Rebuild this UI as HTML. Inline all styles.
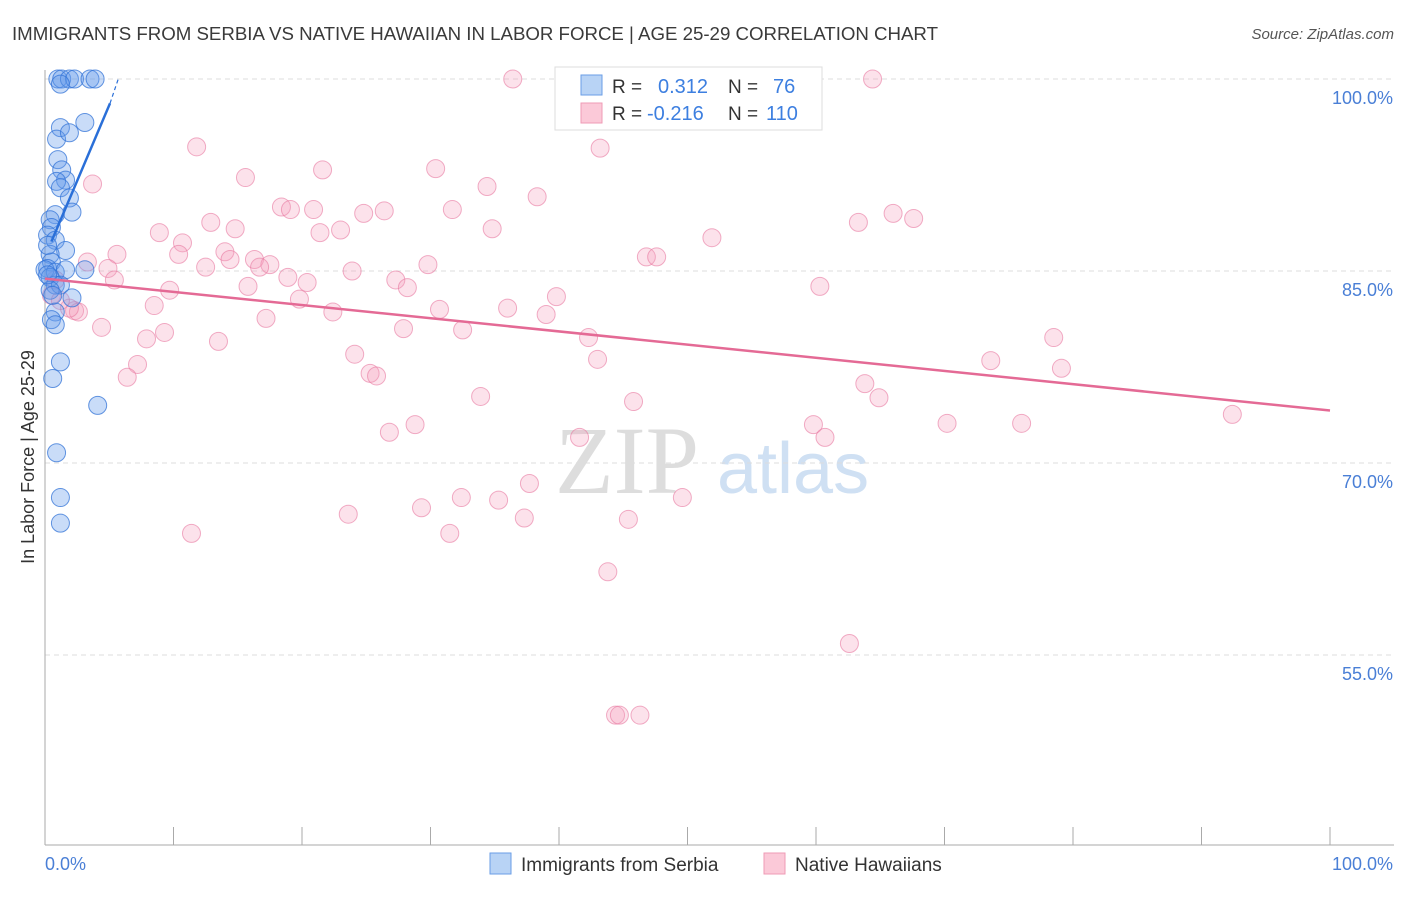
<!DOCTYPE html>
<html><head><meta charset="utf-8"><style>
body{margin:0;background:#fff;width:1406px;height:892px;overflow:hidden;font-family:"Liberation Sans",sans-serif}
</style></head><body>
<svg id="chart" width="1406" height="892" xmlns="http://www.w3.org/2000/svg" font-family="Liberation Sans, sans-serif">
<text x="12" y="40" font-size="18.7" fill="#3a3a3a" textLength="926" lengthAdjust="spacing">IMMIGRANTS FROM SERBIA VS NATIVE HAWAIIAN IN LABOR FORCE | AGE 25-29 CORRELATION CHART</text>
<text x="1394" y="39" font-size="15" fill="#555" text-anchor="end" font-style="italic">Source: ZipAtlas.com</text>
<text x="555" y="493" font-size="96" fill="#ddd" font-family="Liberation Serif, serif">ZIP</text>
<text x="717" y="493" font-size="72" fill="#cfe0f3">atlas</text>
<g id="grid"></g>
<g id="axes"></g>
<g id="pink"></g>
<g id="blue"></g>
<g id="lines"></g>
<text transform="translate(34,457) rotate(-90)" font-size="18" fill="#333" text-anchor="middle">In Labor Force | Age 25-29</text>
<g>
<rect x="555" y="67" width="267" height="63" fill="#fff" stroke="#ddd"/>
<rect x="581" y="75" width="21" height="20" fill="#b8d3f5" stroke="#6a9ee6"/>
<rect x="581" y="103" width="21" height="20" fill="#fbc9d8" stroke="#ef9bb6"/>
<text x="612" y="93" font-size="19" fill="#333">R =</text>
<text x="658" y="93" font-size="20" fill="#3d7fe0">0.312</text>
<text x="728" y="93" font-size="19" fill="#333">N =</text>
<text x="773" y="93" font-size="20" fill="#3d7fe0">76</text>
<text x="612" y="120" font-size="19" fill="#333">R =</text>
<text x="647" y="120" font-size="20" fill="#3d7fe0">-0.216</text>
<text x="728" y="120" font-size="19" fill="#333">N =</text>
<text x="766" y="120" font-size="20" fill="#3d7fe0">110</text>
</g>
<g>
<rect x="490" y="853" width="21" height="21" fill="#b8d3f5" stroke="#6a9ee6"/>
<text x="521" y="871" font-size="19" fill="#333">Immigrants from Serbia</text>
<rect x="764" y="853" width="21" height="21" fill="#fbc9d8" stroke="#ef9bb6"/>
<text x="795" y="871" font-size="19" fill="#333">Native Hawaiians</text>
</g>
</svg>
<script>
const yTicks=[100,85,70,55];
const yTickLabels=["100.0%","85.0%","70.0%","55.0%"];
const xTickLabels=["0.0%","100.0%"];
const blueX=[1.0,1.3,1.9,2.3,3.5,3.9,1.2,3.1,1.2,0.9,1.9,1.0,1.3,1.6,0.9,1.2,1.9,2.1,0.8,0.4,0.5,0.2,0.8,1.6,0.4,0.5,0.2,0,0.8,1.6,3.1,0.4,0.8,1.2,2.1,0.8,0.5,0.8,1.2,0.6,4.1,0.9,1.2,1.2,0.2,0.4,0.2,0.6];
const blueY=[100,100,100,100,100,100,99.6,96.6,96.2,95.3,95.8,93.7,92.9,92.1,92.0,91.5,90.7,89.6,89.4,89.0,88.4,87.8,87.4,86.6,86.3,85.7,85.2,85.1,84.9,85.1,85.1,84.5,83.9,83.9,82.9,81.8,81.2,80.8,77.9,76.6,74.5,70.8,67.3,65.3,87.0,83.5,84.7,83.1];
const pinkX=[36.4,64.4,53.5,43.2,11.8,21.6,30.4,15.6,3.7,34.4,38.3,18.4,19.1,20.9,24.8,26.4,31.7,12.9,8.9,10.7,14.8,21.4,23.0,34.8,63.3,66.0,67.6,51.9,5.6,10.4,14.0,14.4,16.3,17.5,16.7,3.3,4.9,12.5,46.8,47.6,29.8,23.9,18.9,20.4,27.3,28.2,15.8,9.7,5.4,19.8,39.8,8.5,36.0,39.0,22.4,30.7,2.3,2.6,1.9,17.2,4.4,9.3,7.9,13.5,27.9,32.5,42.3,60.3,78.5,43.0,24.1,7.2,6.4,25.3,25.8,73.6,79.1,33.9,45.8,63.8,64.9,92.4,28.8,26.8,59.8,60.7,70.2,76.0,41.6,37.7,32.4,35.3,49.6,23.6,29.3,37.3,45.4,11.4,31.5,43.8,62.6,44.4,44.7,46.3,0.5,0.8,1.2];
const pinkY=[100,100,97.6,94.6,94.7,92.9,93.0,92.3,91.8,91.6,90.8,90.0,89.8,89.8,89.5,89.7,89.8,88.8,88.0,87.2,88.3,88.0,88.2,88.3,88.8,89.5,89.1,87.6,86.3,86.3,86.5,85.9,85.9,85.5,85.3,85.7,85.2,85.3,86.1,86.1,85.5,85.0,84.5,84.1,84.3,83.7,83.8,83.5,84.3,82.8,83.0,82.3,82.1,81.6,81.8,82.0,81.9,81.8,82.1,81.3,80.6,80.2,79.7,79.5,80.5,80.4,79.8,83.8,79.8,78.1,78.5,77.7,76.7,77.0,76.8,78.0,77.4,75.2,74.8,76.2,75.1,73.8,73.0,72.4,73.0,72.0,73.1,73.1,72.0,68.4,67.3,67.1,67.3,66.0,66.5,65.7,65.6,64.5,64.5,61.5,55.9,50.3,50.3,50.3,83.1,84.3,82.7];
const blueTrend=[[0.5,87.3],[5.06,98.1]];
const blueTrendDash=[[5.06,98.1],[5.7,100]];
const pinkTrend=[[0,84.4],[100,74.1]];

const NS="http://www.w3.org/2000/svg";
const X=v=>45+v*12.85;
const Y=v=>79+(100-v)*12.8;
function mk(tag,attrs,parent){const e=document.createElementNS(NS,tag);for(const k in attrs)e.setAttribute(k,attrs[k]);document.getElementById(parent).appendChild(e);return e;}
yTicks.forEach((t,i)=>{
  const l=mk('line',{x1:45,x2:1394,y1:Y(t),y2:Y(t),stroke:'#ddd','stroke-dasharray':'5,4'},'grid');
  
  
  const tx=mk('text',{x:1393,y:Y(t)+25,'font-size':18,fill:'#4a7fd6','text-anchor':'end'},'axes');
  tx.textContent=yTickLabels[i];
  
  
});
const ax=mk('line',{x1:45,x2:45,y1:70,y2:845,stroke:'#aaa'},'axes');


const bx=mk('line',{x1:45,x2:1394,y1:845,y2:845,stroke:'#aaa'},'axes');


for(let i=0;i<=10;i++){
  const t=mk('line',{x1:X(i*10),x2:X(i*10),y1:827,y2:845,stroke:'#aaa'},'axes');
  
  
}
const xl0=mk('text',{x:45,y:870,'font-size':18,fill:'#4a7fd6'},'axes');xl0.textContent=xTickLabels[0];


const xl1=mk('text',{x:1393,y:870,'font-size':18,fill:'#4a7fd6','text-anchor':'end'},'axes');xl1.textContent=xTickLabels[1];


pinkX.forEach((v,i)=>{
  const c=mk('circle',{cx:X(v),cy:Y(pinkY[i]),r:9,fill:'rgba(245,160,190,0.3)',stroke:'rgba(232,120,160,0.6)','stroke-width':1},'pink');
  
  
});
blueX.forEach((v,i)=>{
  const c=mk('circle',{cx:X(v),cy:Y(blueY[i]),r:9,fill:'rgba(100,155,235,0.35)',stroke:'rgba(50,115,215,0.75)','stroke-width':1},'blue');
  
  
});
const pl=mk('line',{x1:X(pinkTrend[0][0]),y1:Y(pinkTrend[0][1]),x2:X(pinkTrend[1][0]),y2:Y(pinkTrend[1][1]),stroke:'#e46a95','stroke-width':2.5},'lines');


const bl=mk('line',{x1:X(blueTrend[0][0]),y1:Y(blueTrend[0][1]),x2:X(blueTrend[1][0]),y2:Y(blueTrend[1][1]),stroke:'#2a6fd8','stroke-width':2.5},'lines');


const bd=mk('line',{x1:X(blueTrendDash[0][0]),y1:Y(blueTrendDash[0][1]),x2:X(blueTrendDash[1][0]),y2:Y(blueTrendDash[1][1]),stroke:'#2a6fd8','stroke-width':1.2,'stroke-dasharray':'4,3'},'lines');


</script>
</body></html>
